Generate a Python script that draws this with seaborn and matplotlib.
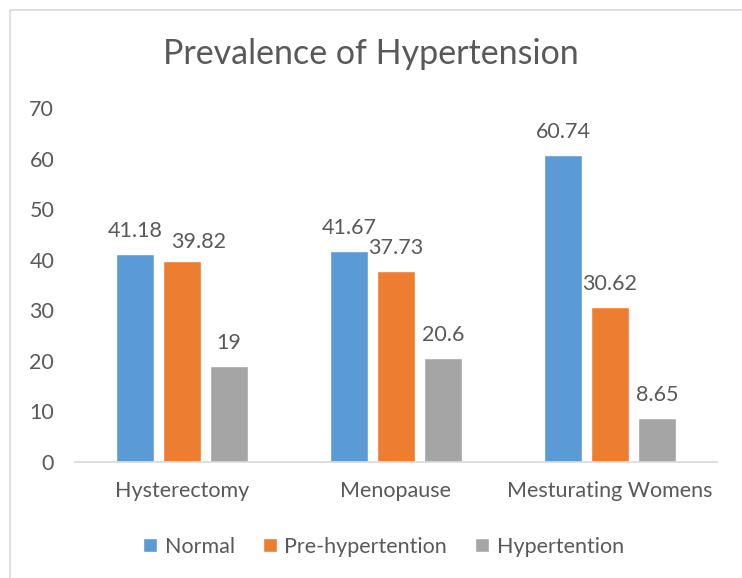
import pandas as pd
import matplotlib.pyplot as plt
import seaborn as sns
from matplotlib.patches import Rectangle

# chart values
groups = ['Hysterectomy', 'Menopause', 'Mesturating Womens']
series = ['Normal', 'Pre-hypertention', 'Hypertention']
normal = [41.18, 41.67, 60.74]
pre_hyp = [39.82, 37.73, 30.62]
hyp = [19, 20.6, 8.65]
value_labels = [['41.18', '41.67', '60.74'],
                ['39.82', '37.73', '30.62'],
                ['19', '20.6', '8.65']]

df = pd.DataFrame({
    'group': groups * 3,
    'series': [s for s in series for _ in groups],
    'value': normal + pre_hyp + hyp,
})

sns.set_style("white")
plt.rcParams['font.family'] = ['Lato', 'DejaVu Sans']
txt = '#595959'
palette = ['#5B9BD5', '#ED7D31', '#A5A5A5']

fig = plt.figure(figsize=(7.42, 5.78), dpi=100)
ax = fig.add_axes([75 / 742, 0.2007, 642 / 742, 0.6125])

sns.barplot(data=df, x='group', y='value', hue='series', palette=palette,
            saturation=1, width=0.66, gap=0.21, ax=ax, legend=True)

# data labels above each bar
for cont, labels in zip(ax.containers, value_labels):
    anns = ax.bar_label(cont, labels=labels, padding=9.5, fontsize=15.5, color=txt)
    for a in anns:
        # Excel nudged this label sideways to clear its neighbour
        if a.get_text() == '39.82':
            a.xyann = (12, 6.5)

ax.set_ylim(0, 70)
ax.set_xlim(-0.5, 2.5)
ax.set_yticks(range(0, 71, 10))
ax.set_xlabel('')
ax.set_ylabel('')
ax.tick_params(axis='both', length=0, labelsize=15.5, colors=txt)
ax.tick_params(axis='x', pad=14)
ax.tick_params(axis='y', pad=15)
for side in ['top', 'right', 'left']:
    ax.spines[side].set_visible(False)
ax.spines['bottom'].set_color('#D9D9D9')
ax.spines['bottom'].set_linewidth(1.2)

fig.text(0.5, 0.906, 'Prevalence of Hypertension', ha='center', va='center',
         fontsize=24.5, color=txt)

handles, labs = ax.get_legend_handles_labels()
ax.legend(handles, labs, loc='center', bbox_to_anchor=(0.517, 0.054),
          bbox_transform=fig.transFigure, ncol=3, frameon=False,
          fontsize=15.5, labelcolor=txt, handlelength=0.65, handleheight=0.65,
          handletextpad=0.35, columnspacing=1.3)

# chart frame (cropped on the right and bottom like the reference)
fig.add_artist(Rectangle((10 / 742, -0.1), 1.2, 1 - 10 / 578 + 0.1,
                         transform=fig.transFigure, fill=False,
                         edgecolor='#D9D9D9', linewidth=1.2))

fig.savefig('out.png', dpi=100)
